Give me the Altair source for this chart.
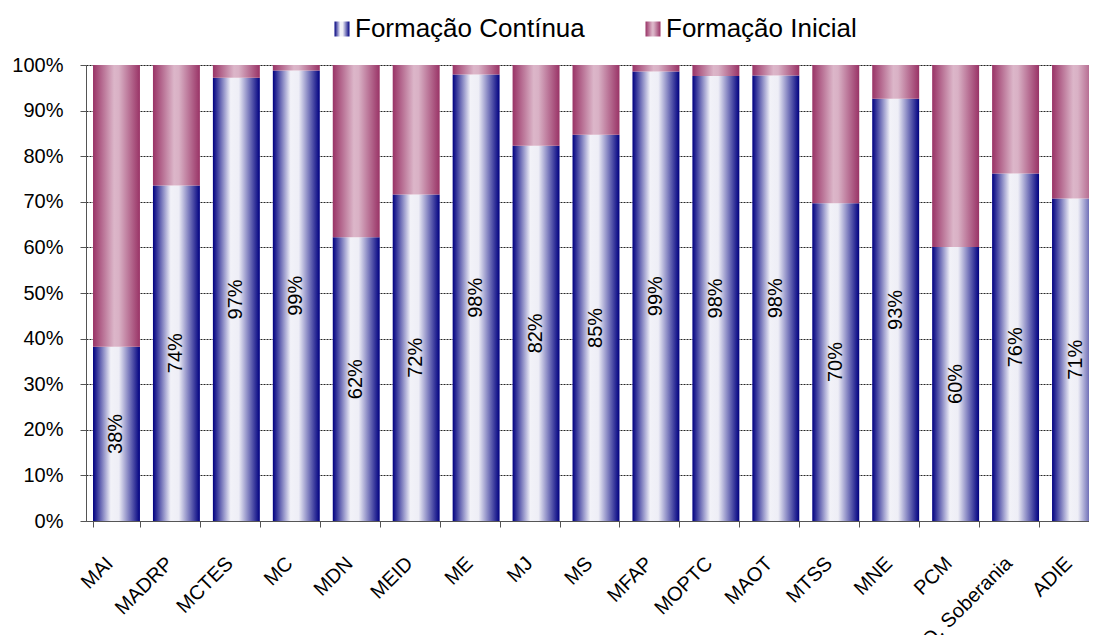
import altair as alt
import pandas as pd

categories = ["MAI", "MADRP", "MCTES", "MC", "MDN", "MEID", "ME", "MJ", "MS", "MFAP",
              "MOPTC", "MAOT", "MTSS", "MNE", "PCM", "O. Soberania", "ADIE"]
# share of "Formação Contínua" (%); "Formação Inicial" is the remainder to 100%
continua = [38.2, 73.6, 97.2, 98.8, 62.2, 71.6, 97.9, 82.3, 84.7, 98.6,
            97.6, 97.7, 69.7, 92.6, 60.1, 76.2, 70.7]
series_names = ["Formação Contínua", "Formação Inicial"]
y_ticks = [0, 0.1, 0.2, 0.3, 0.4, 0.5, 0.6, 0.7, 0.8, 0.9, 1.0]

FONT = "Liberation Sans"

df = pd.DataFrame({"cat": categories, "cont": [v / 100 for v in continua]})
df["top"] = 1.0
df["mid"] = df["cont"] / 2

blue_grad = alt.LinearGradient(
    gradient="linear", x1=0, x2=1, y1=0, y2=0,
    stops=[alt.GradientStop(offset=0, color="#000080"),
           alt.GradientStop(offset=0.38, color="#f2f2f8"),
           alt.GradientStop(offset=0.55, color="#eeeef6"),
           alt.GradientStop(offset=1, color="#000080")])
pink_grad = alt.LinearGradient(
    gradient="linear", x1=0, x2=1, y1=0, y2=0,
    stops=[alt.GradientStop(offset=0, color="#993366"),
           alt.GradientStop(offset=0.45, color="#dcb6c9"),
           alt.GradientStop(offset=0.55, color="#d9b1c5"),
           alt.GradientStop(offset=1, color="#993366")])

x_enc = alt.X(
    "cat:N", sort=categories, title=None,
    scale=alt.Scale(range=[0, 1020], paddingInner=0.217, paddingOuter=0.117),
    axis=alt.Axis(labelAngle=-45, labelAlign="right", labelBaseline="middle",
                  labelPadding=33, labelOffset=-7, labelFontSize=20, labelFont=FONT,
                  labelColor="#000", tickBand="extent", tickSize=6, tickColor="#555",
                  domainColor="#555", grid=False, labelOverlap=False))

y_scale = alt.Scale(domain=[0, 1], nice=False)
y_axis = alt.Axis(values=y_ticks, format=".0%", title=None, labelFontSize=20, labelFont=FONT,
                  labelColor="#000", labelPadding=17, tickSize=6, tickColor="#555",
                  domainColor="#555", grid=True, gridColor="#000", gridDash=[2, 1],
                  gridWidth=1, gridOpacity=0.85)

base = alt.Chart(df)

bars_cont = base.mark_bar(color=blue_grad, opacity=1).encode(
    x=x_enc, y=alt.Y("cont:Q", scale=y_scale, axis=y_axis))
bars_ini = base.mark_bar(color=pink_grad, opacity=1).encode(
    x=x_enc, y=alt.Y("cont:Q", scale=y_scale, axis=y_axis), y2="top:Q")
labels = base.mark_text(angle=270, fontSize=20, font=FONT, color="#000").encode(
    x=x_enc, y=alt.Y("mid:Q", scale=y_scale, axis=y_axis),
    text=alt.Text("cont:Q", format=".0%"))


def legend_layer(name, grad, legend_x):
    ldf = pd.DataFrame({"cat": [categories[0]], "zero": [0], "s": [name]})
    return alt.Chart(ldf).mark_point(size=0, filled=True, opacity=1, color=grad).encode(
        x=x_enc,
        y=alt.Y("zero:Q", scale=y_scale, axis=y_axis),
        shape=alt.Shape("s:N", scale=alt.Scale(domain=[name], range=["square"]),
                        legend=alt.Legend(title=None, orient="none", legendX=legend_x,
                                          legendY=-49, direction="horizontal",
                                          symbolType="square", symbolSize=225,
                                          symbolStrokeWidth=0, symbolOpacity=1,
                                          labelFontSize=26, labelFont=FONT,
                                          labelColor="#000", labelOffset=0,
                                          labelLimit=400)))


leg_a = legend_layer(series_names[0], blue_grad, 243)
leg_b = legend_layer(series_names[1], pink_grad, 554)

chart = alt.layer(bars_cont, bars_ini, labels, leg_a, leg_b).resolve_scale(
    shape="independent").resolve_legend(shape="independent").properties(
    width=1003, height=456,
    autosize=alt.AutoSizeParams(type="none"),
    padding={"left": 78, "top": 57, "right": 0, "bottom": 114},
).configure_view(stroke=None).configure(font=FONT)

chart.save("out.html", embed_options={"renderer": "svg", "actions": False})
